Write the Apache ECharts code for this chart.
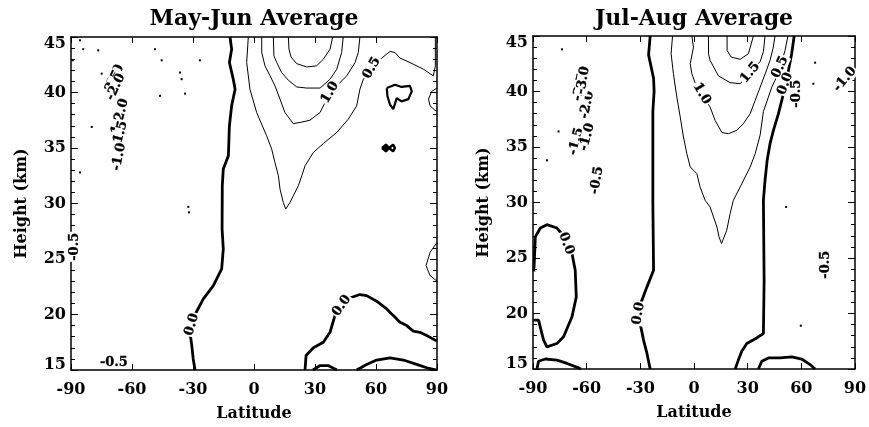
<!DOCTYPE html>
<html>
<head>
<meta charset="utf-8">
<title>Zonal mean contours</title>
<script src="https://cdn.jsdelivr.net/npm/echarts@6/dist/echarts.min.js"></script>
<style>
  html, body { margin: 0; padding: 0; background: #fff; }
  #chart { width: 869px; height: 427px; }
</style>
</head>
<body>
<div id="chart"></div>
<script>
// ---- axis ranges ----
const latRange = [-90, 90];
const latStep = 30;
const heightRange = [15, 45];
const heightStep = 5;
const panelTitles = ['May-Jun Average', 'Jul-Aug Average'];

// ---- May-Jun contours, [latitude, height km] ----
const mjZeroWest = [[-11.8,45],[-11.0,43.9],[-12.1,42.7],[-10.2,41.2],[-9.3,40.3],[-11.0,38.8],[-12.1,37.0],[-12.6,34.3],[-15.1,33.1],[-15.6,31.6],[-15.7,27.7],[-15.1,25.9],[-15.9,24.1],[-20.0,22.6],[-24.9,21.4],[-29.0,20.0],[-30.6,19.3],[-31.5,18.4],[-30.6,17.2],[-29.9,16.0],[-29.0,15.0]];
const mjZeroEast = [[25.1,15.0],[25.6,16.3],[29.2,17.0],[34.1,17.5],[37.4,18.4],[39.8,19.9],[41.5,20.8],[45.6,21.4],[52.1,21.8],[55.4,21.7],[60.3,21.2],[65.3,20.5],[68.5,19.9],[71.8,19.3],[75.1,19.0],[78.3,18.5],[81.6,18.4],[84.9,18.1],[90,17.6]];
const mjZeroSouthEast = [[50.5,15.0],[55.4,15.5],[60.3,15.9],[66.9,16.1],[73.4,15.9],[80.0,15.5],[84.9,15.2],[90,15.0]];
const mjZeroBump = [[29.0,15.0],[32.5,15.4],[36.4,15.4],[40.8,15.0]];
const mjHalf = [[-2.8,45],[-3.6,42.7],[-2.0,40.3],[1.3,38.2],[6.2,36.1],[8.7,34.9],[10.3,33.7],[12.0,32.5],[12.8,31.3],[14.4,30.1],[15.6,29.5],[17.7,30.1],[21.8,31.6],[23.5,32.5],[25.1,33.4],[29.2,34.6],[34.1,35.4],[40.7,36.4],[46.4,37.6],[50.5,38.8],[52.1,40.3],[53.8,41.2],[57.9,42.2],[62.8,43.1],[66.9,43.7],[69.3,43.6],[71.8,43.1],[76.7,42.7],[83.3,42.1],[88.2,41.5],[89.2,42.4],[89.2,45]];
const mjOne = [[3.8,45],[3.8,43.6],[5.4,42.4],[7.9,41.5],[10.3,40.6],[12.8,39.4],[15.2,38.2],[19.3,37.2],[22.6,37.3],[27.5,37.5],[32.5,38.2],[37.4,40.0],[42.3,40.9],[45.6,41.5],[49.7,42.7],[51.3,43.6],[52.1,45]];
const mjOneHalf = [[9.5,45],[9.8,43.3],[11.2,42.7],[13.6,41.8],[16.9,41.1],[21.0,40.5],[25.9,40.4],[32.5,40.4],[37.4,41.2],[40.7,42.1],[43.1,43.6],[43.9,45]];
const mjTwo = [[16.9,45],[17.2,43.9],[18.2,43.2],[21.0,42.6],[25.9,42.3],[30.8,42.4],[34.1,43.0],[37.4,43.9],[38.7,45]];
const mjEdgeUpper = [[90,40.4],[87.4,40.1],[85.8,39.4],[86.6,38.8],[89.0,38.4],[90,38.3]];
const mjEdgeLower = [[90,26.5],[86.6,25.6],[84.6,24.4],[86.6,23.5],[90,23.0]];
const mjFlag = [[65.3,40.4],[69.3,40.7],[72.6,40.5],[76.7,40.6],[77.6,40.1],[75.9,39.4],[72.6,39.2],[70.2,39.5],[68.5,38.5],[66.9,38.9],[65.6,39.7],[65.3,40.4]];
const mjEight = [[63.0,35.0],[64.9,35.3],[66.4,35.0],[64.9,34.7],[63.0,35.0],[66.4,35.0],[68.4,35.3],[69.3,35.0],[68.4,34.7],[66.4,35.0]];
const mjSpecks = [[-85.6,44.7],[-84.0,43.9],[-76.6,43.8],[-89.2,42.9],[-74.9,41.7],[-48.7,43.9],[-45.4,42.9],[-36.4,41.8],[-35.6,41.2],[-33.9,39.9],[-26.6,42.9],[-46.2,39.7],[-79.8,36.9],[-85.6,32.8],[-32.3,29.7],[-32.0,29.2]];
const mjLabels = [
  ['0.0', -30.6, 19.1, 75], ['0.0', 43.1, 20.8, 55], ['1.0', 37.4, 40.0, 60], ['0.5', 57.9, 42.2, 60],
  ['-0.5', -88.2, 26.1, 90], ['-0.5', -68.9, 15.7, 0],
  ['-3.0', -68.5, 41.3, 65], ['-2.5', -69.5, 40.8, 65], ['-2.0', -68.0, 40.5, 65],
  ['-2.0', -65.4, 38.2, 75], ['-1.2', -67.0, 37.0, 75], ['-1.5', -65.9, 36.2, 75], ['-1.0', -66.4, 34.2, 78]
];

// ---- Jul-Aug contours ----
const jaZeroWest = [[-89.5,23.8],[-88.7,26.9],[-85.9,27.7],[-82.2,28.0],[-76.6,27.7],[-71.0,26.6],[-68.2,25.4],[-66.4,23.9],[-65.8,21.5],[-68.2,19.7],[-72.9,17.9],[-76.6,17.3],[-82.2,17.0],[-84.1,17.6],[-86.9,19.4],[-90,19.4]];
const jaZeroSouthWest = [[-87.8,15.0],[-86.9,15.7],[-83.1,15.9],[-76.6,15.8],[-71.0,15.5],[-64.5,15.1],[-63.2,15.0]];
const jaZeroMid = [[-24.5,45],[-25.4,43.3],[-22.6,41.2],[-22.3,40.0],[-23.0,38.2],[-23.0,30.0],[-22.6,23.9],[-26.3,22.4],[-29.1,21.2],[-31.0,20.6],[-31.9,20.0],[-30.1,19.1],[-28.2,17.6],[-26.3,16.4],[-24.5,15.0]];
const jaZeroEast = [[56.0,45],[54.6,43.4],[52.8,41.9],[50.0,39.8],[47.2,38.0],[44.4,36.5],[42.5,35.3],[40.9,33.8],[39.7,32.0],[38.8,30.2],[39.2,23.0],[38.8,18.2],[35.1,17.8],[29.5,17.3],[26.7,16.6],[24.8,15.8],[23.0,15.0]];
const jaZeroSouthEast = [[36.0,15.0],[37.9,15.7],[41.6,16.0],[48.1,16.0],[54.7,16.1],[60.2,15.9],[64.9,15.4],[67.7,15.0]];
const jaHalf = [[-12.0,45],[-12.8,43.4],[-11.5,41.6],[-9.6,39.5],[-7.7,37.7],[-5.9,35.9],[-4.0,34.4],[-2.1,33.2],[1.6,32.6],[3.4,31.4],[6.2,30.2],[9.0,29.6],[10.9,28.7],[12.8,27.8],[14.0,26.9],[15.4,26.3],[18.3,27.5],[20.2,29.0],[22.0,30.2],[25.8,31.4],[28.6,32.3],[31.4,33.2],[34.2,34.4],[37.0,36.1],[38.8,38.2],[41.6,39.5],[43.5,40.4],[45.3,41.0],[48.1,42.2],[50.9,43.7],[52.5,45]];
const jaOne = [[-1.2,45],[-0.3,44.0],[-2.1,42.5],[-1.2,41.6],[0.6,40.8],[4.4,39.8],[9.0,38.6],[11.8,37.4],[15.6,36.3],[19.2,36.2],[23.9,36.5],[27.6,37.1],[31.4,38.0],[34.2,39.2],[37.0,40.4],[39.8,41.6],[42.5,42.8],[44.2,43.9],[45.3,45]];
const jaOneHalf = [[8.1,45],[8.1,43.4],[9.0,42.8],[13.7,41.4],[20.2,40.8],[25.8,40.7],[31.4,41.7],[37.0,42.7],[38.8,43.6],[39.7,45]];
const jaTwo = [[18.5,45],[18.5,43.7],[20.8,43.1],[25.8,42.9],[30.4,43.4],[33.2,45]];
const jaSpecks = [[-73.8,43.8],[-75.7,36.4],[-82.2,33.8],[67.7,42.6],[66.7,40.7],[51.5,29.6],[59.7,18.9]];
const jaLabels = [
  ['0.0', -71.4, 26.3, -70], ['0.0', -31.0, 20.0, 80], ['1.0', 4.4, 39.8, -60], ['1.5', 31.4, 41.7, 50],
  ['0.5', 48.1, 42.2, 65], ['0.0', 51.0, 40.7, 70], ['-0.5', 57.4, 39.8, 90], ['-1.0', 84.4, 41.1, 50],
  ['-0.5', 73.3, 24.4, 90], ['-0.5', -54.3, 32.0, 80],
  ['-1.5', -65.8, 35.5, 75], ['-1.0', -59.8, 35.9, 75], ['-2.0', -59.8, 38.8, 78],
  ['-2.5', -63.6, 40.4, 78], ['-3.0', -62.0, 41.0, 80]
];

// ---- layout ----
const FONT = 'DejaVu Serif';
const grids = [
  { left: 71, top: 37, width: 366, height: 333 },
  { left: 533, top: 36, width: 322, height: 333 }
];
const centers = grids.map(g => g.left + g.width / 2);

const frame = { show: true, onZero: false, lineStyle: { color: '#000', width: 1.5 } };
const tickStyle = { color: '#000', width: 1 };
const labelFont = { fontFamily: FONT, fontWeight: 'bold', fontSize: 16, color: '#000' };

const xAxes = [], yAxes = [];
grids.forEach((g, i) => {
  xAxes.push({
    gridIndex: i, type: 'value', min: latRange[0], max: latRange[1], interval: latStep,
    position: 'bottom', axisLine: frame,
    axisTick: { show: true, inside: true, length: 6, lineStyle: tickStyle },
    axisLabel: Object.assign({ margin: 12, showMinLabel: true, showMaxLabel: true, hideOverlap: false }, labelFont),
    splitLine: { show: false },
    name: 'Latitude', nameLocation: 'middle', nameGap: 36,
    nameTextStyle: Object.assign({}, labelFont)
  });
  xAxes.push({
    gridIndex: i, type: 'value', min: latRange[0], max: latRange[1], interval: latStep,
    position: 'top', axisLine: frame,
    axisTick: { show: true, inside: true, length: 6, lineStyle: tickStyle },
    axisLabel: { show: false }, splitLine: { show: false }
  });
  const rich = {
    hi: Object.assign({ padding: [14, 0, 0, 0] }, labelFont),
    lo: Object.assign({ padding: [0, 0, 11, 0] }, labelFont)
  };
  yAxes.push({
    gridIndex: i, type: 'value', min: heightRange[0], max: heightRange[1], interval: heightStep,
    position: 'left', axisLine: frame,
    axisTick: { show: true, inside: true, length: 7, lineStyle: tickStyle },
    minorTick: { show: true, splitNumber: 5, length: 4, lineStyle: tickStyle },
    axisLabel: Object.assign({
      margin: 5, showMinLabel: true, showMaxLabel: true, hideOverlap: false, rich: rich,
      formatter: v => v === heightRange[1] ? '{hi|' + v + '}' : (v === heightRange[0] ? '{lo|' + v + '}' : String(v))
    }, labelFont),
    splitLine: { show: false }, minorSplitLine: { show: false },
    name: 'Height (km)', nameLocation: 'middle', nameGap: 41, nameRotate: 90,
    nameTextStyle: Object.assign({}, labelFont)
  });
  yAxes.push({
    gridIndex: i, type: 'value', min: heightRange[0], max: heightRange[1], interval: heightStep,
    position: 'right', axisLine: frame,
    axisTick: { show: true, inside: true, length: 7, lineStyle: tickStyle },
    minorTick: { show: true, splitNumber: 5, length: 4, lineStyle: tickStyle },
    axisLabel: { show: false }, splitLine: { show: false }, minorSplitLine: { show: false }
  });
});

function contour(data, panel, width) {
  return {
    type: 'line', xAxisIndex: panel * 2, yAxisIndex: panel * 2, data: data,
    symbol: 'none', showSymbol: false, smooth: false, clip: true, silent: true,
    lineStyle: { color: '#000', width: width }, z: 2
  };
}
function specks(data, panel) {
  return {
    type: 'scatter', xAxisIndex: panel * 2, yAxisIndex: panel * 2, data: data,
    symbol: 'rect', symbolSize: [2, 2], itemStyle: { color: '#000', opacity: 1 }, silent: true, z: 2
  };
}
function labels(list, panel) {
  return {
    type: 'scatter', xAxisIndex: panel * 2, yAxisIndex: panel * 2, silent: true, z: 5,
    symbol: 'circle', symbolSize: 0, itemStyle: { color: '#fff', opacity: 1 },
    data: list.map(d => ({
      name: d[0], value: [d[1], d[2]],
      label: { rotate: d[3] }
    })),
    label: {
      show: true, position: 'inside', formatter: '{b}',
      fontFamily: FONT, fontWeight: 'bold', fontSize: 13, color: '#000',
      textBorderColor: '#000', textBorderWidth: 0.3,
      backgroundColor: '#fff', padding: [0, 1, 0, 1]
    }
  };
}

const THICK = 2.8, THIN = 1;
const series = [
  contour(mjZeroWest, 0, THICK), contour(mjZeroEast, 0, THICK), contour(mjZeroSouthEast, 0, THICK),
  contour(mjZeroBump, 0, THICK), contour(mjHalf, 0, THIN), contour(mjOne, 0, THIN),
  contour(mjOneHalf, 0, THIN), contour(mjTwo, 0, THIN), contour(mjEdgeUpper, 0, THIN),
  contour(mjEdgeLower, 0, THIN), contour(mjFlag, 0, 2.2), contour(mjEight, 0, 2.5),
  specks(mjSpecks, 0), labels(mjLabels, 0),
  contour(jaZeroWest, 1, THICK), contour(jaZeroSouthWest, 1, THICK), contour(jaZeroMid, 1, THICK),
  contour(jaZeroEast, 1, THICK), contour(jaZeroSouthEast, 1, THICK), contour(jaHalf, 1, THIN),
  contour(jaOne, 1, THIN), contour(jaOneHalf, 1, THIN), contour(jaTwo, 1, THIN),
  specks(jaSpecks, 1), labels(jaLabels, 1)
];

const chart = echarts.init(document.getElementById('chart'), null, { renderer: 'canvas' });
chart.setOption({
  backgroundColor: '#fff',
  animation: false,
  title: panelTitles.map((t, i) => ({
    text: t, left: centers[i], top: 8, textAlign: 'center', padding: 0,
    textStyle: { fontFamily: FONT, fontWeight: 'bold', fontSize: 22, color: '#000' }
  })),
  grid: grids.map(g => Object.assign({ containLabel: false, outerBoundsMode: 'none' }, g)),
  xAxis: xAxes,
  yAxis: yAxes,
  series: series
});
</script>
</body>
</html>
